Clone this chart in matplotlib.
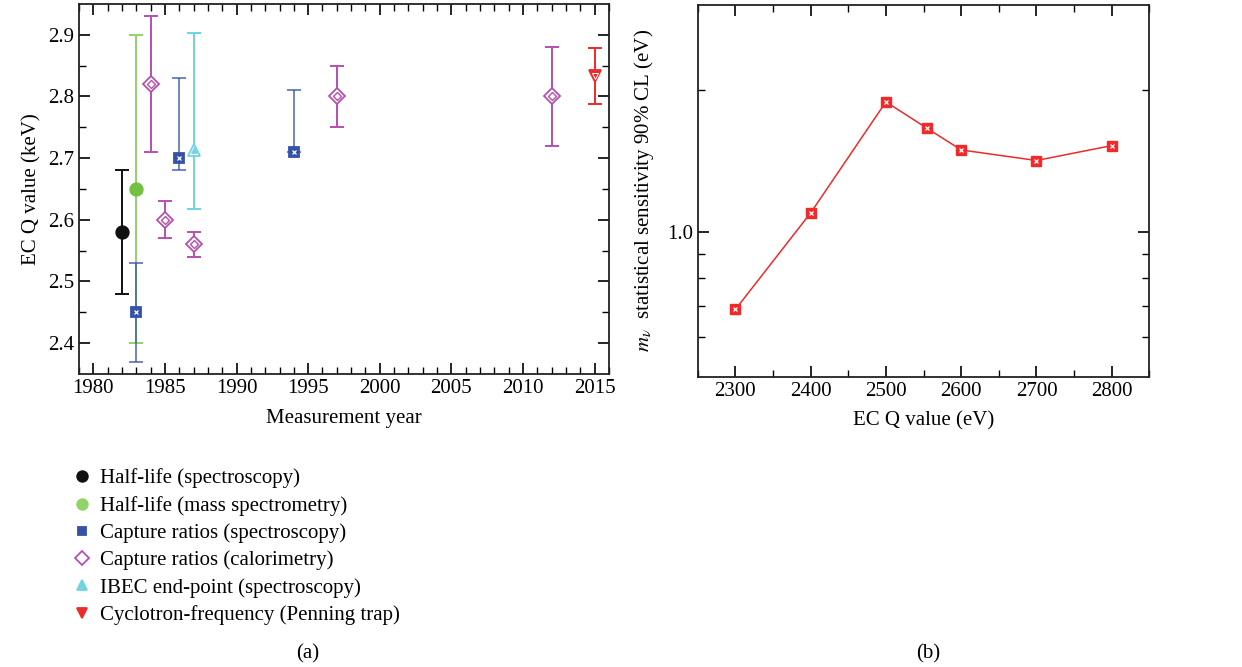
import matplotlib
matplotlib.use("Agg")
import matplotlib.pyplot as plt
from matplotlib.lines import Line2D
from matplotlib.ticker import MultipleLocator, FixedLocator, NullFormatter, FixedFormatter

plt.rcParams['font.family'] = ['Liberation Serif', 'DejaVu Serif']
plt.rcParams['mathtext.fontset'] = 'stix'
plt.rcParams['font.size'] = 15

# ---- (a) EC Q value measurements ----
labels = ["Half-life (spectroscopy)", "Half-life (mass spectrometry)",
          "Capture ratios (spectroscopy)", "Capture ratios (calorimetry)",
          "IBEC end-point (spectroscopy)", "Cyclotron-frequency (Penning trap)"]

hl_spec_year = [1982]
hl_spec_q = [2.58]
hl_spec_lo = [0.10]
hl_spec_hi = [0.10]

hl_mass_year = [1983]
hl_mass_q = [2.65]
hl_mass_lo = [0.25]
hl_mass_hi = [0.25]

cr_spec_year = [1983, 1986, 1994]
cr_spec_q = [2.45, 2.70, 2.71]
cr_spec_lo = [0.08, 0.02, 0.0]
cr_spec_hi = [0.08, 0.13, 0.10]

cr_cal_year = [1984, 1985, 1987, 1997, 2012]
cr_cal_q = [2.82, 2.60, 2.56, 2.80, 2.80]
cr_cal_lo = [0.11, 0.03, 0.02, 0.05, 0.08]
cr_cal_hi = [0.11, 0.03, 0.02, 0.05, 0.08]

ibec_year = [1987]
ibec_q = [2.713]
ibec_lo = [0.095]
ibec_hi = [0.19]

penning_year = [2015]
penning_q = [2.833]
penning_lo = [0.045]
penning_hi = [0.045]

# ---- (b) sensitivity vs Q value ----
q_ev = [2300, 2400, 2500, 2555, 2600, 2700, 2800]
sens = [0.687, 1.10, 1.89, 1.66, 1.495, 1.42, 1.527]

BLACK = "#111111"
GREEN = "#74c043"
BLUE = "#3352a8"
MAGENTA = "#b64fae"
CYAN = "#6fd3e3"
RED = "#ee2a2a"

fig = plt.figure(figsize=(12.42, 6.67), dpi=100)
ax1 = fig.add_axes([0.0636, 0.4393, 0.4267, 0.5547])
ax2 = fig.add_axes([0.5618, 0.4352, 0.3636, 0.5573])

series = [
    (hl_spec_year, hl_spec_q, hl_spec_lo, hl_spec_hi, BLACK, "o", BLACK, 9, 1.0),
    (hl_mass_year, hl_mass_q, hl_mass_lo, hl_mass_hi, "#8fd46a", "o", GREEN, 9, 1.0),
    (cr_spec_year, cr_spec_q, cr_spec_lo, cr_spec_hi, BLUE, "s", BLUE, 7, 0.7),
    (cr_cal_year, cr_cal_q, cr_cal_lo, cr_cal_hi, MAGENTA, "D", "white", 8, 1.0),
    (ibec_year, ibec_q, ibec_lo, ibec_hi, CYAN, "^", "white", 9, 1.0),
    (penning_year, penning_q, penning_lo, penning_hi, RED, "v", RED, 9, 1.0),
]

handles = []
for (yr, q, lo, hi, col, mk, fc, ms, al), lab in zip(series, labels):
    ax1.errorbar(yr, q, yerr=[lo, hi], fmt="none", ecolor=col, elinewidth=1.4,
                 capsize=5, capthick=1.4, alpha=al, zorder=2)
    mec = col if mk != "o" else fc
    ax1.plot(yr, q, linestyle="none", marker=mk, ms=ms, mfc=fc, mec=mec,
             mew=1.3, zorder=3)
    # inner pattern on the hatched markers
    if mk == "s":
        ax1.plot(yr, q, linestyle="none", marker="x", ms=3.5, mec="white", mew=0.9, zorder=4)
    elif mk == "D":
        ax1.plot(yr, q, linestyle="none", marker="D", ms=4.5, mfc="none", mec=col, mew=1.0, zorder=4)
    elif mk == "^":
        ax1.plot(yr, q, linestyle="none", marker=mk, ms=5, mfc=col, mec=col, mew=0.5, zorder=4)
    elif mk == "v":
        ax1.plot(yr, q, linestyle="none", marker=mk, ms=4, mfc="none", mec="white", mew=0.7, zorder=4)
    handles.append(Line2D([], [], linestyle="none", marker=mk, ms=ms * 0.85,
                          mfc=col if mk != "D" else "white", mec=col, mew=1.3))

ax1.set_xlim(1979, 2016)
ax1.set_ylim(2.35, 2.95)
ax1.xaxis.set_major_locator(MultipleLocator(5))
ax1.xaxis.set_minor_locator(MultipleLocator(1))
ax1.yaxis.set_major_locator(FixedLocator([2.4, 2.5, 2.6, 2.7, 2.8, 2.9]))
ax1.yaxis.set_minor_locator(FixedLocator([2.45, 2.55, 2.65, 2.75, 2.85]))
ax1.yaxis.set_major_formatter(FixedFormatter(["2.4", "2.5", "2.6", "2.7", "2.8", "2.9"]))
ax1.set_xlabel("Measurement year", labelpad=8)
ax1.set_ylabel("EC Q value (keV)", labelpad=5)

fig.legend(handles, labels, loc="upper left", bbox_to_anchor=(0.053, 0.31),
           frameon=False, handlelength=0.8, handletextpad=0.45,
           labelspacing=0.36, borderaxespad=0, fontsize=15)

ax2.plot(q_ev, sens, color=RED, lw=1.1, marker="s", ms=7.5, mfc=RED, mec=RED, zorder=3)
ax2.plot(q_ev, sens, linestyle="none", marker="x", ms=3.5, mec="white", mew=0.9, zorder=4)
ax2.set_yscale("log")
ax2.set_xlim(2250, 2850)
ax2.set_ylim(0.495, 3.03)
ax2.xaxis.set_major_locator(MultipleLocator(100))
ax2.xaxis.set_minor_locator(MultipleLocator(50))
ax2.yaxis.set_major_locator(FixedLocator([1.0]))
ax2.yaxis.set_major_formatter(FixedFormatter(["1.0"]))
ax2.yaxis.set_minor_locator(FixedLocator([0.6, 0.7, 0.8, 0.9, 2.0]))
ax2.yaxis.set_minor_formatter(NullFormatter())
ax2.set_xlabel("EC Q value (eV)", labelpad=8)
ax2.set_ylabel(r"$m_{\nu}$  statistical sensitivity 90% CL (eV)", labelpad=8)

for ax in (ax1, ax2):
    ax.tick_params(which="both", direction="in", top=True, right=True, labelsize=15)
    ax.tick_params(which="major", length=8, width=1.2)
    ax.tick_params(which="minor", length=5, width=1.0)
    for sp in ax.spines.values():
        sp.set_linewidth(1.3)
        sp.set_color("#222222")

fig.text(0.248, 0.005, "(a)", ha="center", va="bottom", fontsize=15)
fig.text(0.747, 0.005, "(b)", ha="center", va="bottom", fontsize=15)

fig.savefig("out.png", dpi=100)
